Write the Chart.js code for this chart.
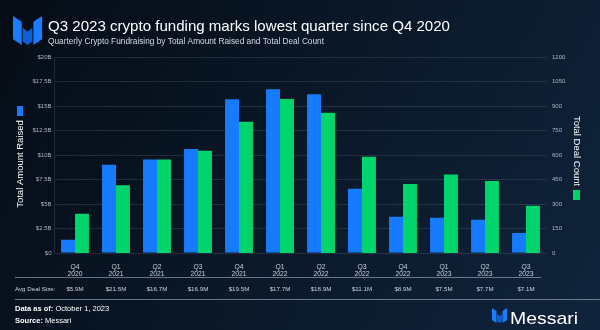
<!DOCTYPE html>
<html>
<head>
<meta charset="utf-8">
<script src="https://cdn.jsdelivr.net/npm/chart.js@4"></script>
<style>
  html, body { margin: 0; padding: 0; background: #08121e; }
  canvas { display: block; }
</style>
</head>
<body>
<canvas id="chart" width="600" height="330"></canvas>
<script>
const quarters = [
  ["Q4", "2020"], ["Q1", "2021"], ["Q2", "2021"], ["Q3", "2021"],
  ["Q4", "2021"], ["Q1", "2022"], ["Q2", "2022"], ["Q3", "2022"],
  ["Q4", "2022"], ["Q1", "2023"], ["Q2", "2023"], ["Q3", "2023"],
];
// total amount raised, $B
const amountRaised = [1.35, 9.0, 9.55, 10.6, 15.7, 16.7, 16.2, 6.55, 3.7, 3.6, 3.4, 2.05];
// total deal count
const dealCount = [240, 415, 573, 626, 804, 943, 859, 590, 422, 480, 441, 290];
const avgDealSize = ["$5.9M", "$21.5M", "$16.7M", "$16.9M", "$19.5M", "$17.7M",
  "$18.9M", "$11.1M", "$8.9M", "$7.5M", "$7.7M", "$7.1M"];

const BLUE = "#167bff";
const GREEN = "#00d46c";
const FONT = "'Liberation Sans', Arial, sans-serif";

function fitText(ctx, text, x, y, font, width) {
  ctx.font = font;
  const w = ctx.measureText(text).width;
  ctx.save();
  ctx.translate(x, y);
  ctx.scale(width / w, 1);
  ctx.fillText(text, 0, 0);
  ctx.restore();
}

function drawMessariMark(ctx, x, y, s) {
  // rough Messari "M" mark: two tall strips and a lower middle piece
  ctx.save();
  ctx.translate(x, y);
  ctx.scale(s, s);
  ctx.fillStyle = "#1a7cff";
  ctx.beginPath();
  ctx.moveTo(0, 0); ctx.lineTo(9, 6); ctx.lineTo(9, 30); ctx.lineTo(0, 24);
  ctx.closePath(); ctx.fill();
  ctx.fillStyle = "#0d5fd6";
  ctx.beginPath();
  ctx.moveTo(10, 12); ctx.lineTo(15, 16); ctx.lineTo(20, 12); ctx.lineTo(20, 26);
  ctx.lineTo(15, 30); ctx.lineTo(10, 26);
  ctx.closePath(); ctx.fill();
  ctx.fillStyle = "#1a7cff";
  ctx.beginPath();
  ctx.moveTo(30, 0); ctx.lineTo(21, 6); ctx.lineTo(21, 30); ctx.lineTo(30, 24);
  ctx.closePath(); ctx.fill();
  ctx.restore();
}

const background = {
  id: "background",
  beforeDraw(chart) {
    const { ctx, width, height } = chart;
    const g = ctx.createLinearGradient(0, 0, width, height);
    g.addColorStop(0, "#050c16");
    g.addColorStop(0.5, "#0a1828");
    g.addColorStop(1, "#10243c");
    ctx.save();
    ctx.fillStyle = g;
    ctx.fillRect(0, 0, width, height);
    ctx.restore();
  },
};

const decorations = {
  id: "decorations",
  afterDraw(chart) {
    const { ctx } = chart;
    const x = chart.scales.x;
    ctx.save();

    // header
    drawMessariMark(ctx, 13, 16, 0.97);
    ctx.fillStyle = "#ffffff";
    ctx.textBaseline = "alphabetic";
    ctx.textAlign = "left";
    fitText(ctx, "Q3 2023 crypto funding marks lowest quarter since Q4 2020",
      48, 30.5, "15px " + FONT, 402);
    ctx.fillStyle = "#d3dbe6";
    fitText(ctx, "Quarterly Crypto Fundraising by Total Amount Raised and Total Deal Count",
      48, 43.5, "8.5px " + FONT, 276);

    // axis titles with legend squares
    ctx.fillStyle = "#ffffff";
    ctx.font = "9.5px " + FONT;
    ctx.textAlign = "center";
    ctx.textBaseline = "middle";
    ctx.save();
    ctx.translate(20, 164);
    ctx.rotate(-Math.PI / 2);
    ctx.fillText("Total Amount Raised", 0, 0);
    ctx.restore();
    ctx.fillStyle = BLUE;
    ctx.fillRect(17, 106, 6, 10);

    ctx.fillStyle = "#ffffff";
    ctx.save();
    ctx.translate(577, 151);
    ctx.rotate(Math.PI / 2);
    ctx.fillText("Total Deal Count", 0, 0);
    ctx.restore();
    ctx.fillStyle = GREEN;
    ctx.fillRect(573, 190, 7, 10);

    // avg deal size row
    ctx.strokeStyle = "rgba(180, 195, 215, 0.55)";
    ctx.lineWidth = 1;
    ctx.beginPath();
    ctx.moveTo(15, 277.5); ctx.lineTo(541, 277.5);
    ctx.moveTo(15, 299.5); ctx.lineTo(600, 299.5);
    ctx.stroke();

    ctx.fillStyle = "#c9d2de";
    ctx.font = "6.2px " + FONT;
    ctx.textAlign = "left";
    ctx.fillText("Avg Deal Size:", 15, 289);
    ctx.textAlign = "center";
    avgDealSize.forEach((v, i) => {
      ctx.fillText(v, x.getPixelForValue(i), 289);
    });

    // footer
    ctx.textAlign = "left";
    ctx.textBaseline = "alphabetic";
    ctx.fillStyle = "#ffffff";
    ctx.font = "bold 7.5px " + FONT;
    ctx.fillText("Data as of:", 15, 311);
    let w = ctx.measureText("Data as of: ").width;
    ctx.font = "7.5px " + FONT;
    ctx.fillText("October 1, 2023", 15 + w, 311);
    ctx.font = "bold 7.5px " + FONT;
    ctx.fillText("Source:", 15, 323);
    w = ctx.measureText("Source: ").width;
    ctx.font = "7.5px " + FONT;
    ctx.fillText("Messari", 15 + w, 323);

    // brand mark bottom right
    drawMessariMark(ctx, 492, 308, 0.5);
    ctx.fillStyle = "#ffffff";
    fitText(ctx, "Messari", 510, 324, "17px " + FONT, 68);

    ctx.restore();
  },
};

new Chart(document.getElementById("chart"), {
  type: "bar",
  plugins: [background, decorations],
  data: {
    labels: quarters,
    datasets: [
      {
        label: "Total Amount Raised",
        data: amountRaised,
        backgroundColor: BLUE,
        yAxisID: "y",
        barPercentage: 1,
        categoryPercentage: 0.68,
      },
      {
        label: "Total Deal Count",
        data: dealCount,
        backgroundColor: GREEN,
        yAxisID: "y1",
        barPercentage: 1,
        categoryPercentage: 0.68,
      },
    ],
  },
  options: {
    responsive: false,
    animation: false,
    devicePixelRatio: 1,
    layout: { padding: { top: 57, left: 0, right: 0, bottom: 0 } },
    scales: {
      x: {
        afterFit: (scale) => { scale.height = 77; },
        grid: { display: false },
        border: { display: false },
        ticks: {
          color: "#c5cedb",
          font: { family: FONT, size: 6.8, lineHeight: 1.1 },
          padding: 2,
          maxRotation: 0,
          autoSkip: false,
        },
      },
      y: {
        position: "left",
        min: 0,
        max: 20,
        afterFit: (scale) => { scale.width = 54.5; },
        grid: { color: "rgba(200, 215, 235, 0.13)", drawTicks: false },
        border: { color: "rgba(200, 215, 235, 0.13)" },
        ticks: {
          stepSize: 2.5,
          padding: 3,
          color: "#a9b4c4",
          font: { family: FONT, size: 6 },
          callback: (v) => (v === 0 ? "$0" : "$" + v + "B"),
        },
      },
      y1: {
        position: "right",
        min: 0,
        max: 1200,
        afterFit: (scale) => { scale.width = 53.5; },
        grid: { display: false, drawTicks: false },
        border: { display: false },
        ticks: {
          stepSize: 150,
          padding: 5.5,
          color: "#a9b4c4",
          font: { family: FONT, size: 6 },
          callback: (v) => String(v),
        },
      },
    },
    plugins: {
      legend: { display: false },
      tooltip: { enabled: false },
    },
  },
});
</script>
</body>
</html>
